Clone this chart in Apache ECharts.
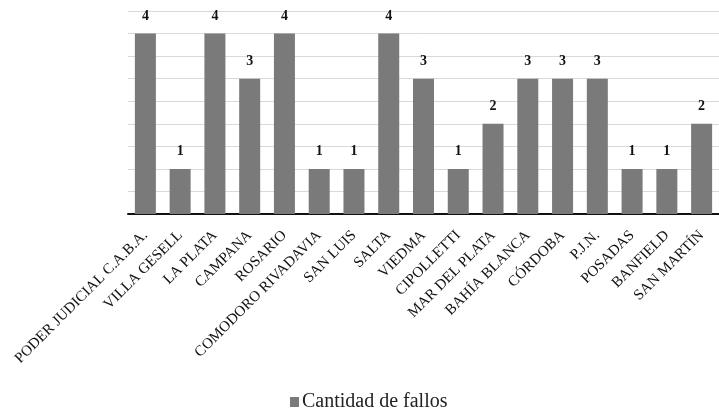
<!DOCTYPE html>
<html><head><meta charset="utf-8">
<script src="https://cdn.jsdelivr.net/npm/echarts@6/dist/echarts.min.js"></script>
<style>html,body{margin:0;padding:0;background:#fff}#c{width:719px;height:414px}</style>
</head><body><div id="c"></div>
<script>
const categories = ["PODER JUDICIAL C.A.B.A.","VILLA GESELL","LA PLATA","CAMPANA","ROSARIO","COMODORO RIVADAVIA","SAN LUIS","SALTA","VIEDMA","CIPOLLETTI","MAR DEL PLATA","BAHÍA BLANCA","CÓRDOBA","P.J.N.","POSADAS","BANFIELD","SAN MARTÍN"];
const fallos = [4,1,4,3,4,1,1,4,3,1,2,3,3,3,1,1,2];
const seriesName = "Cantidad de fallos";
const chart = echarts.init(document.getElementById('c'));
const serif = '"Liberation Serif","DejaVu Serif",serif';
chart.setOption({
  animation:false,
  grid:{left:128,right:-7,top:11,bottom:200,containLabel:false},
  legend:{top:392,left:290,itemWidth:9,itemHeight:10,itemGap:4,padding:0,
    icon:'rect',textStyle:{fontFamily:serif,fontSize:20,color:'#222',padding:[0,0,0,-2]},data:[seriesName]},
  xAxis:{type:'category',data:categories,
    axisLine:{lineStyle:{color:'#111',width:2}},axisTick:{show:false},
    axisLabel:{rotate:45,interval:0,fontFamily:serif,fontSize:15,color:'#111',margin:19}},
  yAxis:{type:'value',min:0,max:4.5,interval:0.5,
    axisLabel:{show:false},axisLine:{show:false},axisTick:{show:false},
    splitLine:{lineStyle:{color:'#d9d9d9',width:1}}},
  series:[{name:seriesName,type:'bar',data:fallos,barWidth:21,
    itemStyle:{color:'#7a7a7a'},
    label:{show:true,position:'top',distance:10,fontFamily:serif,fontWeight:'bold',fontSize:14,color:'#111'}}]
});
</script></body></html>
